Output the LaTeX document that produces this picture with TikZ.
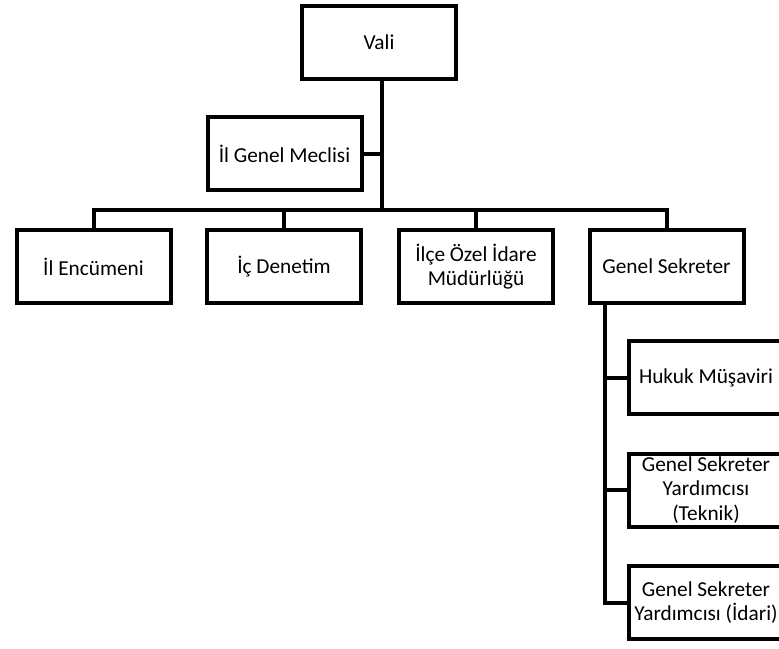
\documentclass[tikz,border=0pt]{standalone}
\usepackage{fontspec}
\setmainfont{Carlito}
\begin{document}
\begin{tikzpicture}[x=1pt,y=-1pt,
  box/.style={draw=black,line width=4pt,fill=white,minimum width=154pt,minimum height=73pt,
    inner sep=2pt,align=center,font=\fontsize{21.3}{24.5}\selectfont},
  conn/.style={draw=black,line width=4pt}]
\useasboundingbox (0,0) rectangle (779,648);
\clip (0,0) rectangle (779,648);
\node[box] (vali) at (379,42) {Vali};
\node[box] (meclis) at (284.5,153.5) {İl Genel Meclisi};
\node[box] (enc) at (93.5,266.5) {İl Encümeni};
\node[box] (ic) at (284,266.5) {İç Denetim};
\node[box] (ilce) at (476,266.5) {İlçe Özel İdare\\Müdürlüğü};
\node[box] (gs) at (666.5,266.5) {Genel Sekreter};
\node[box] (hukuk) at (706,377.5) {Hukuk Müşaviri};
\node[box] (teknik) at (706,490) {Genel Sekreter\\Yardımcısı\\(Teknik)};
\node[box] (idari) at (706,602.5) {Genel Sekreter\\Yardımcısı (İdari)};
\coordinate (vtop) at ([xshift=3pt]vali.south);
\coordinate (bar) at (vtop |- 0,210);
\coordinate (gsd) at ([xshift=17pt]gs.south west);
\draw[conn] (vtop) -- (bar);
\draw[conn] (meclis.east) -- (meclis.east -| vtop);
\draw[conn,line join=miter] (enc.north) |- (bar) -| (gs.north);
\draw[conn] (ic.north) -- (ic.north |- bar);
\draw[conn] (ilce.north) -- (ilce.north |- bar);
\draw[conn,line join=miter] (gsd) |- (idari.west);
\draw[conn] (hukuk.west) -- (hukuk.west -| gsd);
\draw[conn] (teknik.west) -- (teknik.west -| gsd);
\end{tikzpicture}
\end{document}
